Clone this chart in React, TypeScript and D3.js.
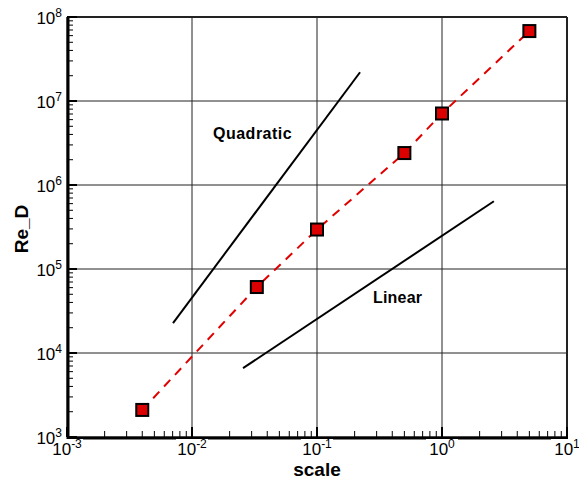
import React from "react";
import * as d3 from "d3";

const scaleValues = [0.004, 0.033, 0.1, 0.5, 1, 5];
const reValues = [2100, 61000, 295000, 2400000, 7100000, 68000000];
const quadraticLine = [
  [0.00705, 22700],
  [0.221, 22000000],
];
const linearLine = [
  [0.0256, 6600],
  [2.6, 640000],
];
const xExponents = [-3, -2, -1, 0, 1];
const yExponents = [3, 4, 5, 6, 7, 8];

const W = 579;
const H = 480;
const L = 67;
const R = 567;
const T = 17;
const B = 437;
const FONT = "'Liberation Sans', Arial, sans-serif";

export default function App() {
  const x = d3.scaleLog().domain([1e-3, 1e1]).range([L, R]);
  const y = d3.scaleLog().domain([1e3, 1e8]).range([B, T]);

  const xMinor: number[] = [];
  xExponents.slice(0, -1).forEach((e) => {
    for (let k = 2; k <= 9; k++) xMinor.push(k * Math.pow(10, e));
  });
  const yMinor: number[] = [];
  yExponents.slice(0, -1).forEach((e) => {
    for (let k = 2; k <= 9; k++) yMinor.push(k * Math.pow(10, e));
  });

  const line = d3
    .line<number>()
    .x((_, i) => x(scaleValues[i]))
    .y((_, i) => y(reValues[i]));
  const seg = d3
    .line<number[]>()
    .x((d) => x(d[0]))
    .y((d) => y(d[1]));

  return (
    <svg
      width={W}
      height={H}
      style={{ position: "absolute", left: 0, top: 0, background: "#fff" }}
      fontFamily={FONT}
    >
      <rect x={0} y={0} width={W} height={H} fill="#fff" />
      {/* grid */}
      {xExponents.map((e) => (
        <line
          key={"gx" + e}
          x1={x(Math.pow(10, e))}
          x2={x(Math.pow(10, e))}
          y1={T}
          y2={B}
          stroke="#222"
          strokeWidth={1}
        />
      ))}
      {yExponents.map((e) => (
        <line
          key={"gy" + e}
          x1={L}
          x2={R}
          y1={y(Math.pow(10, e))}
          y2={y(Math.pow(10, e))}
          stroke="#222"
          strokeWidth={1}
        />
      ))}
      {/* frame */}
      <line x1={L} x2={R} y1={T} y2={T} stroke="#222" strokeWidth={2} />
      <line x1={R} x2={R} y1={T} y2={B} stroke="#222" strokeWidth={2} />
      <line x1={L} x2={R + 1} y1={B + 1} y2={B + 1} stroke="#000" strokeWidth={3} />
      <line x1={L + 1} x2={L + 1} y1={T} y2={B + 2} stroke="#000" strokeWidth={3} />
      {/* minor ticks */}
      {xMinor.map((v, i) => (
        <line key={"xm" + i} x1={x(v)} x2={x(v)} y1={B} y2={B - 6} stroke="#000" strokeWidth={1} />
      ))}
      {yMinor.map((v, i) => (
        <line key={"ym" + i} x1={L} x2={L + 6} y1={y(v)} y2={y(v)} stroke="#000" strokeWidth={1} />
      ))}
      {xExponents.map((e) => (
        <line key={"xM" + e} x1={x(Math.pow(10, e))} x2={x(Math.pow(10, e))} y1={B} y2={B - 10} stroke="#000" strokeWidth={2} />
      ))}
      {yExponents.map((e) => (
        <line key={"yM" + e} x1={L} x2={L + 10} y1={y(Math.pow(10, e))} y2={y(Math.pow(10, e))} stroke="#000" strokeWidth={2} />
      ))}
      {/* x tick labels with white box */}
      {xExponents.map((e) => {
        const cx = x(Math.pow(10, e));
        return (
          <g key={"xl" + e}>
            <rect x={cx - 16} y={B + 2} width={32} height={17} fill="#fff" />
            <text x={cx} y={B + 18} textAnchor="middle" fontSize={17} fill="#000">
              10
              <tspan fontSize={12} dy={-7}>
                {e}
              </tspan>
            </text>
          </g>
        );
      })}
      {/* y tick labels */}
      {yExponents.map((e) => (
        <text key={"yl" + e} x={62} y={y(Math.pow(10, e)) + 7} textAnchor="end" fontSize={17} fill="#000">
          10
          <tspan fontSize={12} dy={-7}>
            {e}
          </tspan>
        </text>
      ))}
      {/* reference lines */}
      <path d={seg(quadraticLine) || ""} stroke="#000" strokeWidth={2} fill="none" />
      <path d={seg(linearLine) || ""} stroke="#000" strokeWidth={2} fill="none" />
      <text x={213} y={139} fontSize={16} fontWeight="bold" letterSpacing={0.5}>
        Quadratic
      </text>
      <text x={373} y={303} fontSize={16} fontWeight="bold" letterSpacing={0.2}>
        Linear
      </text>
      {/* data */}
      <path
        d={line(reValues) || ""}
        stroke="#e00000"
        strokeWidth={2}
        strokeDasharray="9,7"
        fill="none"
      />
      {scaleValues.map((v, i) => (
        <rect
          key={"pt" + i}
          x={x(v) - 6}
          y={y(reValues[i]) - 6}
          width={12}
          height={12}
          fill="#dd0000"
          stroke="#000"
          strokeWidth={2}
        />
      ))}
      {/* axis titles */}
      <text x={317} y={476} textAnchor="middle" fontSize={19} fontWeight="bold">
        scale
      </text>
      <text
        transform={`translate(28,229) rotate(-90)`}
        textAnchor="middle"
        fontSize={19}
        fontWeight="bold"
      >
        Re_D
      </text>
    </svg>
  );
}
